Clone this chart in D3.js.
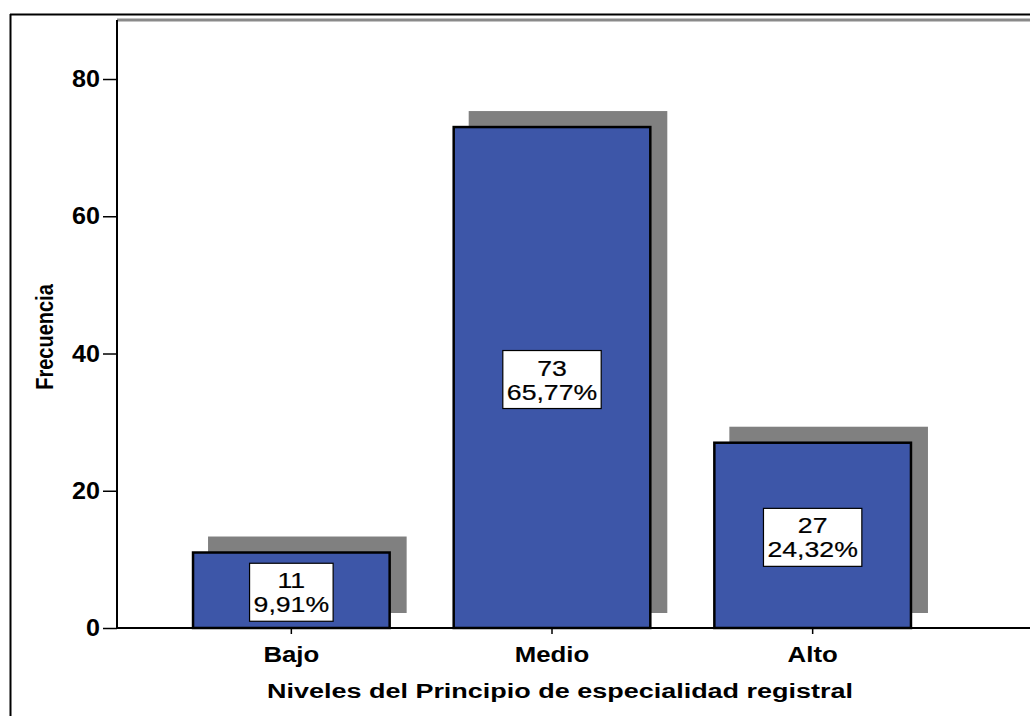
<!DOCTYPE html>
<html>
<head>
<meta charset="utf-8">
<script src="https://cdn.jsdelivr.net/npm/d3@7/dist/d3.min.js"></script>
<style>
  html, body { margin: 0; padding: 0; background: #fff; }
  svg { display: block; font-family: "Liberation Sans", Arial, sans-serif; }
</style>
</head>
<body>
<svg id="chart" width="1030" height="716"></svg>
<script>
// ---- data ----
const categories = ["Bajo", "Medio", "Alto"];
const counts = [11, 73, 27];
const percentLabels = ["9,91%", "65,77%", "24,32%"];
const yTicks = [0, 20, 40, 60, 80];
const xTitle = "Niveles del Principio de especialidad registral";
const yTitle = "Frecuencia";

// ---- layout ----
const W = 1030, H = 716;
const plot = { left: 117, top: 20, bottom: 628, right: 1030 };
const svg = d3.select("#chart");

const x = d3.scaleBand()
  .domain(categories)
  .range([plot.left, 987])
  .paddingInner(0.2457)
  .paddingOuter(0.2917);

const y = d3.scaleLinear()
  .domain([0, 88.6])
  .range([plot.bottom, plot.top]);

const barColor = "#3d56a8";
const shadowColor = "#808080";
const shadowDx = 16, shadowDy = -15;

// outer frame (only top and left visible)
svg.append("line").attr("x1", 10).attr("x2", W).attr("y1", 14.5).attr("y2", 14.5)
  .attr("stroke", "#000").attr("stroke-width", 2);
svg.append("line").attr("x1", 10.5).attr("x2", 10.5).attr("y1", 14).attr("y2", H)
  .attr("stroke", "#000").attr("stroke-width", 2);

// plot top frame line (gray)
svg.append("line").attr("x1", plot.left).attr("x2", plot.right).attr("y1", plot.top).attr("y2", plot.top)
  .attr("stroke", "#8a8a8a").attr("stroke-width", 3);

const data = categories.map((c, i) => ({ cat: c, n: counts[i], pct: percentLabels[i] }));

// shadows
svg.append("g").selectAll("rect").data(data).join("rect")
  .attr("x", d => x(d.cat) - 1 + shadowDx)
  .attr("y", d => y(d.n) - 1 + shadowDy)
  .attr("width", x.bandwidth() + 2)
  .attr("height", d => y(0) - y(d.n) + 1)
  .attr("fill", shadowColor);

// bars
svg.append("g").selectAll("rect").data(data).join("rect")
  .attr("x", d => x(d.cat))
  .attr("y", d => y(d.n))
  .attr("width", x.bandwidth())
  .attr("height", d => y(0) - y(d.n))
  .attr("fill", barColor)
  .attr("stroke", "#000")
  .attr("stroke-width", 2.5);

// y axis
const yAxis = d3.axisLeft(y).tickValues(yTicks).tickSize(14).tickPadding(2).tickFormat(d3.format("d"));
const gy = svg.append("g").attr("transform", `translate(${plot.left},0)`).call(yAxis);
gy.select(".domain").remove();
gy.selectAll(".tick line").attr("stroke", "#000").attr("stroke-width", 1.5);
gy.selectAll(".tick text")
  .attr("font-family", "Liberation Sans, Arial, sans-serif")
  .attr("font-size", 23.5).attr("font-weight", "bold").attr("fill", "#000")
  .attr("transform", "scale(1.07,1)");
svg.append("line").attr("x1", plot.left).attr("x2", plot.left).attr("y1", plot.top).attr("y2", plot.bottom)
  .attr("stroke", "#000").attr("stroke-width", 2);

// x axis
const xAxis = d3.axisBottom(x).tickSize(6).tickPadding(8);
const gx = svg.append("g").attr("transform", `translate(0,${plot.bottom})`).call(xAxis);
gx.select(".domain").remove();
gx.selectAll(".tick line").attr("stroke", "#000").attr("stroke-width", 1.5);
gx.selectAll(".tick text").remove();
svg.append("line").attr("x1", plot.left).attr("x2", plot.right).attr("y1", plot.bottom).attr("y2", plot.bottom)
  .attr("stroke", "#000").attr("stroke-width", 2);

// category labels
svg.append("g").selectAll("g").data(categories).join("g")
  .attr("transform", d => `translate(${x(d) + x.bandwidth() / 2},662) scale(1.2,1)`)
  .append("text")
  .attr("text-anchor", "middle")
  .attr("font-size", 21.5).attr("font-weight", "bold").attr("fill", "#000")
  .text(d => d);

// axis titles
svg.append("text")
  .attr("x", 267).attr("y", 698)
  .attr("text-anchor", "start")
  .attr("font-size", 20).attr("font-weight", "bold").attr("fill", "#000")
  .attr("textLength", 586).attr("lengthAdjust", "spacingAndGlyphs")
  .text(xTitle);

svg.append("g").attr("transform", "translate(53,337) rotate(-90) scale(0.87,1)")
  .append("text").attr("text-anchor", "middle")
  .attr("font-size", 23).attr("font-weight", "bold").attr("fill", "#000")
  .text(yTitle);

// data labels
const sx = 1.24;
const lab = svg.append("g").selectAll("g").data(data).join("g")
  .attr("transform", d => `translate(${x(d.cat) + x.bandwidth() / 2},${(y(d.n) + y(0)) / 2 + 2})`);
const boxes = lab.append("rect");
const txt = lab.append("g").attr("transform", `scale(${sx},1)`).append("text")
  .attr("text-anchor", "middle").attr("font-size", 21.5).attr("fill", "#000")
  .attr("stroke", "#000").attr("stroke-width", 0.2);
txt.append("tspan").attr("x", 0).attr("y", -4).text(d => d.n);
txt.append("tspan").attr("x", 0).attr("y", 20).text(d => d.pct);
lab.each(function() {
  const g = d3.select(this);
  let w = 0;
  g.selectAll("tspan").each(function() { w = Math.max(w, this.getComputedTextLength()); });
  w = w * sx + 8;
  g.select("rect")
    .attr("x", -w / 2).attr("y", -29)
    .attr("width", w).attr("height", 58)
    .attr("fill", "#fff").attr("stroke", "#000").attr("stroke-width", 1.2);
});
</script>
</body>
</html>
